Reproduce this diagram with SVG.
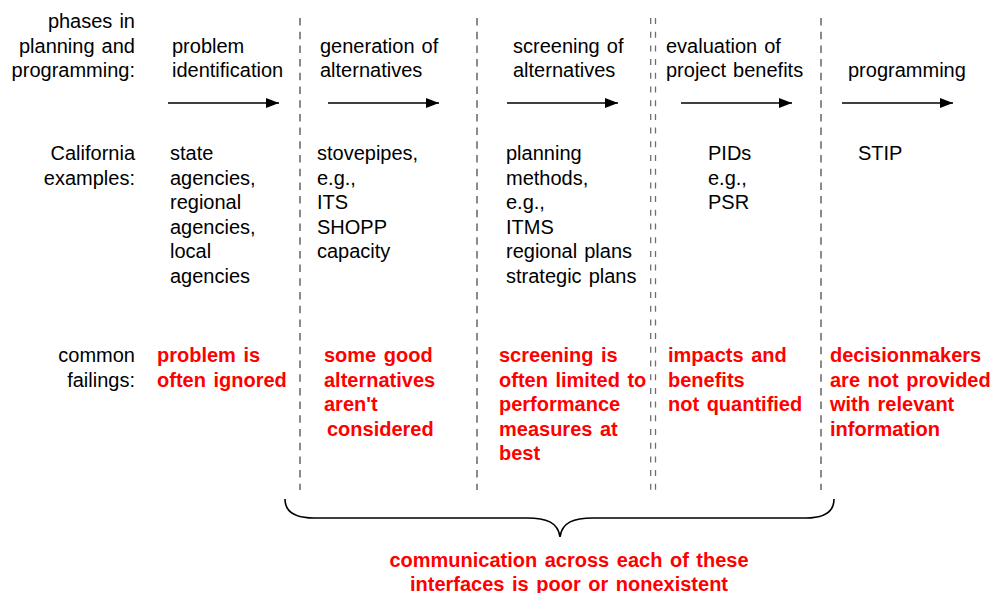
<svg xmlns="http://www.w3.org/2000/svg" width="991" height="593" viewBox="0 0 991 593">
<style>
text{font-family:"Liberation Sans",Arial,sans-serif;font-size:20px;fill:#000;word-spacing:1.5px}
.r{text-anchor:end}
.red{fill:#ff0000;font-weight:bold;word-spacing:2px}
.c{text-anchor:middle}
.dash{stroke:#6e6e6e;stroke-width:1.6;stroke-dasharray:7.5 6.2;fill:none}
.dash2{stroke:#6e6e6e;stroke-width:1.3;stroke-dasharray:6 7.7;fill:none}
.arr{stroke:#000;stroke-width:1.3;fill:none;marker-end:url(#ah)}
</style>
<defs>
<marker id="ah" viewBox="0 0 13 10" refX="13" refY="5" markerWidth="13" markerHeight="10" markerUnits="userSpaceOnUse" orient="auto">
<path d="M0,0 L13,5 L0,10 Z" fill="#000"/>
</marker>
</defs>
<rect width="991" height="593" fill="#fff"/>
<g id="row-labels">
<text class="r" x="135" y="28">phases in</text>
<text class="r" x="135" y="52.5">planning and</text>
<text class="r" x="135" y="77">programming:</text>
<text class="r" x="135" y="160">California</text>
<text class="r" x="135" y="184.5">examples:</text>
<text class="r" x="135" y="362">common</text>
<text class="r" x="135" y="386.5">failings:</text>
</g>
<g id="dividers">
<line class="dash" x1="300" y1="18" x2="300" y2="490"/>
<line class="dash" x1="477" y1="18" x2="477" y2="490"/>
<line class="dash2" x1="650.7" y1="18" x2="650.7" y2="490"/>
<line class="dash2" x1="655.5" y1="18" x2="655.5" y2="490"/>
<line class="dash" x1="821" y1="18" x2="821" y2="490"/>
</g>
<g id="connectors">
<line class="arr" x1="168" y1="103" x2="279" y2="103"/>
<line class="arr" x1="328" y1="103" x2="439" y2="103"/>
<line class="arr" x1="507" y1="103" x2="618" y2="103"/>
<line class="arr" x1="681" y1="103" x2="792" y2="103"/>
<line class="arr" x1="842" y1="103" x2="953" y2="103"/>
</g>
<g id="phase-problem">
<text x="172" y="52.5">problem</text>
<text x="172" y="77">identification</text>
<text x="170" y="160">state</text>
<text x="170" y="184.5">agencies,</text>
<text x="170" y="209">regional</text>
<text x="170" y="233.5">agencies,</text>
<text x="170" y="258">local</text>
<text x="170" y="282.5">agencies</text>
<text class="red" x="157" y="362">problem is</text>
<text class="red" x="157" y="386.5">often ignored</text>
</g>
<g id="phase-generation">
<text x="320" y="52.5">generation of</text>
<text x="320" y="77">alternatives</text>
<text x="317" y="160">stovepipes,</text>
<text x="317" y="184.5">e.g.,</text>
<text x="317" y="209">ITS</text>
<text x="317" y="233.5">SHOPP</text>
<text x="317" y="258">capacity</text>
<text class="red" x="324" y="362">some good</text>
<text class="red" x="324" y="386.5">alternatives</text>
<text class="red" x="324" y="411">aren't</text>
<text class="red" x="327" y="435.5">considered</text>
</g>
<g id="phase-screening">
<text x="513" y="52.5">screening of</text>
<text x="513" y="77">alternatives</text>
<text x="506" y="160">planning</text>
<text x="506" y="184.5">methods,</text>
<text x="506" y="209">e.g.,</text>
<text x="506" y="233.5">ITMS</text>
<text x="506" y="258">regional plans</text>
<text x="506" y="282.5">strategic plans</text>
<text class="red" x="499" y="362">screening is</text>
<text class="red" x="499" y="386.5">often limited to</text>
<text class="red" x="499" y="411">performance</text>
<text class="red" x="499" y="435.5">measures at</text>
<text class="red" x="499" y="460">best</text>
</g>
<g id="phase-evaluation">
<text x="666" y="52.5">evaluation of</text>
<text x="666" y="77">project benefits</text>
<text x="708" y="160">PIDs</text>
<text x="708" y="184.5">e.g.,</text>
<text x="708" y="209">PSR</text>
<text class="red" x="668" y="362">impacts and</text>
<text class="red" x="668" y="386.5">benefits</text>
<text class="red" x="668" y="411">not quantified</text>
</g>
<g id="phase-programming">
<text x="848" y="77">programming</text>
<text x="858" y="160">STIP</text>
<text class="red" x="830" y="362">decisionmakers</text>
<text class="red" x="830" y="386.5">are not provided</text>
<text class="red" x="830" y="411">with relevant</text>
<text class="red" x="830" y="435.5">information</text>
</g>
<g id="brace">
<path d="M285,499 C285,511 294,518 314,518 L527,518 C546,518 558,522 560,537 C562,522 574,518 593,518 L806,518 C826,518 834,511 834,499" fill="none" stroke="#000" stroke-width="1.6"/>
<text class="red c" x="569" y="567">communication across each of these</text>
<text class="red c" x="569" y="590.5">interfaces is poor or nonexistent</text>
</g>
</svg>
